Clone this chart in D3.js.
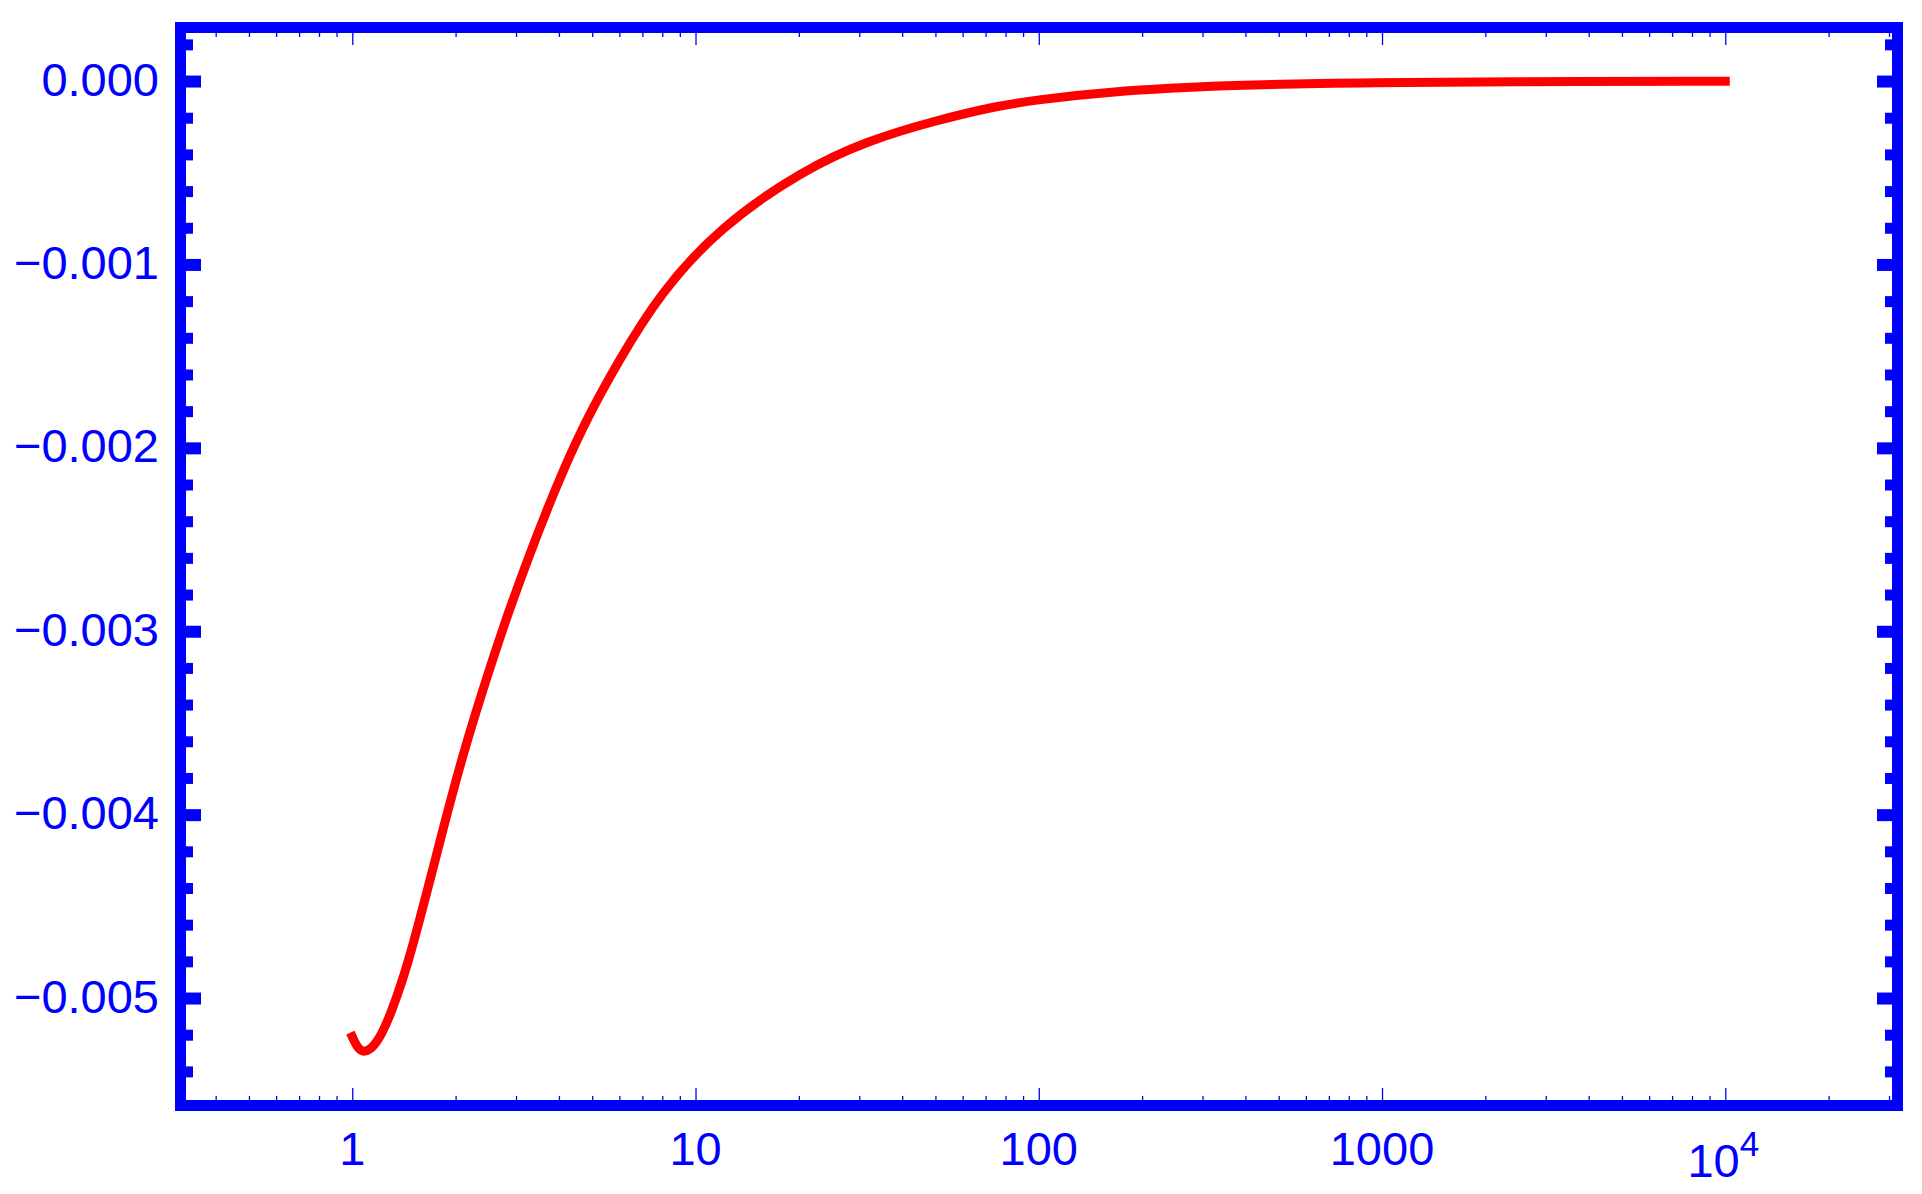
<!DOCTYPE html>
<html>
<head>
<meta charset="utf-8">
<script src="https://cdn.jsdelivr.net/npm/d3@7"></script>
<style>
  html, body { margin: 0; padding: 0; background: #ffffff; }
  svg { display: block; }
</style>
</head>
<body>
<svg id="chart" width="1922" height="1194"></svg>
<script>
// ---- data ----
const xValues = [1.000, 1.035, 1.081, 1.161, 1.251, 1.361, 1.462, 1.647, 1.846, 2.078, 2.382, 2.754, 3.236, 3.852, 4.678, 5.984, 7.878, 11.78, 20.60, 31.52, 49.28, 77.1, 98.6, 150.8, 368, 1000, 2208, 10000];
const yValues = [-0.005211, -0.005272, -0.005300, -0.005265, -0.005157, -0.004974, -0.004793, -0.004429, -0.004066, -0.003702, -0.003339, -0.002975, -0.002612, -0.002248, -0.001885, -0.001521, -0.001158, -0.000794, -0.000485, -0.000327, -0.000218, -0.000132, -0.000104, -0.000060, -0.000020, -0.000008, -0.000004, -0.000001];

const yMajorTicks = [0, -0.001, -0.002, -0.003, -0.004, -0.005];
const yTickLabels = ["0.000", "\u22120.001", "\u22120.002", "\u22120.003", "\u22120.004", "\u22120.005"];
const yMinorTicks = [0.0002, -0.0002, -0.0004, -0.0006, -0.0008, -0.0012, -0.0014, -0.0016, -0.0018,
  -0.0022, -0.0024, -0.0026, -0.0028, -0.0032, -0.0034, -0.0036, -0.0038,
  -0.0042, -0.0044, -0.0046, -0.0048, -0.0052, -0.0054];

const xMajorTicks = [1, 10, 100, 1000, 10000];
const xTickLabels = ["1", "10", "100", "1000", "10^4"];
const xMinorTicks = [0.4, 0.5, 0.6, 0.7, 0.8, 0.9,
  2, 3, 4, 5, 6, 7, 8, 9,
  20, 30, 40, 50, 60, 70, 80, 90,
  200, 300, 400, 500, 600, 700, 800, 900,
  2000, 3000, 4000, 5000, 6000, 7000, 8000, 9000,
  20000, 30000];

const xDomain = [0.3278, 30600];
const yDomain = [-0.005556, 0.000262];

// ---- layout ----
const BLUE = "#0000ff", RED = "#ff0000";
const inner = { left: 186, right: 1892, top: 33, bottom: 1100 };
const frameW = 11;
const FONT = "'Liberation Sans', Arial, Helvetica, sans-serif";
const fontSize = 47;

const svg = d3.select("#chart");

const x = d3.scaleLog().domain(xDomain).range([inner.left, inner.right]);
const y = d3.scaleLinear().domain(yDomain).range([inner.bottom, inner.top]);

// curve
const line = d3.line()
  .x((d, i) => x(xValues[i]))
  .y((d, i) => y(yValues[i]))
  .curve(d3.curveBasis);

svg.append("path")
  .datum(xValues)
  .attr("d", line)
  .attr("fill", "none")
  .attr("stroke", RED)
  .attr("stroke-width", 9)
  .attr("stroke-linejoin", "round")
  .attr("stroke-linecap", "square");

// helper to style axis
function styleAxis(g, width) {
  g.select(".domain").remove();
  g.selectAll(".tick text").remove();
  g.selectAll(".tick line").attr("stroke", BLUE).attr("stroke-width", width);
}

// y axes: left and right (thick ticks)
svg.append("g").attr("transform", `translate(${inner.left},0)`)
  .call(d3.axisLeft(y).tickValues(yMajorTicks).tickSize(-15).tickFormat(""))
  .call(g => styleAxis(g, 12));
svg.append("g").attr("transform", `translate(${inner.left},0)`)
  .call(d3.axisLeft(y).tickValues(yMinorTicks).tickSize(-7).tickFormat(""))
  .call(g => styleAxis(g, 11));
svg.append("g").attr("transform", `translate(${inner.right},0)`)
  .call(d3.axisRight(y).tickValues(yMajorTicks).tickSize(-15).tickFormat(""))
  .call(g => styleAxis(g, 12));
svg.append("g").attr("transform", `translate(${inner.right},0)`)
  .call(d3.axisRight(y).tickValues(yMinorTicks).tickSize(-7).tickFormat(""))
  .call(g => styleAxis(g, 11));

// x axes: bottom and top (thin ticks)
svg.append("g").attr("transform", `translate(0,${inner.bottom})`)
  .call(d3.axisBottom(x).tickValues(xMajorTicks).tickSize(-12).tickFormat(""))
  .call(g => styleAxis(g, 1.3));
svg.append("g").attr("transform", `translate(0,${inner.bottom})`)
  .call(d3.axisBottom(x).tickValues(xMinorTicks).tickSize(-4).tickFormat(""))
  .call(g => styleAxis(g, 1.3));
svg.append("g").attr("transform", `translate(0,${inner.top})`)
  .call(d3.axisTop(x).tickValues(xMajorTicks).tickSize(-12).tickFormat(""))
  .call(g => styleAxis(g, 1.3));
svg.append("g").attr("transform", `translate(0,${inner.top})`)
  .call(d3.axisTop(x).tickValues(xMinorTicks).tickSize(-4).tickFormat(""))
  .call(g => styleAxis(g, 1.3));

// frame
svg.append("rect")
  .attr("x", inner.left - frameW / 2)
  .attr("y", inner.top - frameW / 2)
  .attr("width", inner.right - inner.left + frameW)
  .attr("height", inner.bottom - inner.top + frameW)
  .attr("fill", "none")
  .attr("stroke", BLUE)
  .attr("stroke-width", frameW);

// y labels
svg.append("g").selectAll("text")
  .data(yMajorTicks)
  .join("text")
  .attr("x", 159)
  .attr("y", d => y(d) + 14.5)
  .attr("text-anchor", "end")
  .attr("font-family", FONT)
  .attr("font-size", fontSize)
  .attr("fill", BLUE)
  .text((d, i) => yTickLabels[i]);

// x labels
const xl = svg.append("g");
xMajorTicks.forEach((v, i) => {
  const lab = xTickLabels[i];
  const t = xl.append("text")
    .attr("text-anchor", "middle")
    .attr("font-family", FONT)
    .attr("font-size", fontSize)
    .attr("fill", BLUE);
  if (lab.includes("^")) {
    const [base, exp] = lab.split("^");
    t.attr("x", x(v) - 2).attr("y", 1176.5);
    t.append("tspan").text(base);
    t.append("tspan").attr("font-size", 35).attr("dy", -20.5).text(exp);
  } else {
    t.attr("x", x(v)).attr("y", 1165).text(lab);
  }
});
</script>
</body>
</html>
